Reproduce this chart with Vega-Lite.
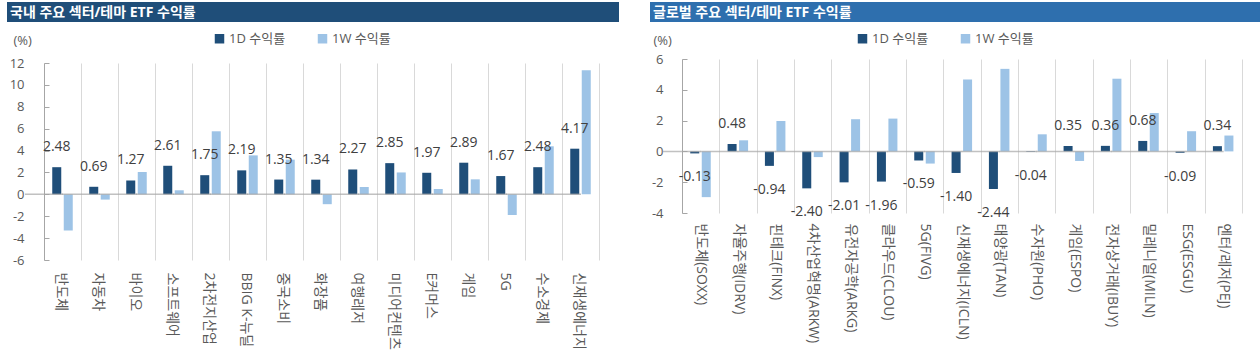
{
  "$schema": "https://vega.github.io/schema/vega-lite/v6.json",
  "padding": {"left": 0, "top": 2, "right": 0, "bottom": 0},
  "background": "white",
  "spacing": 24,
  "resolve": {"scale": {"color": "independent"}, "legend": {"color": "independent"}},
  "datasets": {
    "kr": [
      {"sector": "반도체", "series": "1D 수익률", "value": 2.48},
      {"sector": "반도체", "series": "1W 수익률", "value": -3.3},
      {"sector": "자동차", "series": "1D 수익률", "value": 0.69},
      {"sector": "자동차", "series": "1W 수익률", "value": -0.48},
      {"sector": "바이오", "series": "1D 수익률", "value": 1.27},
      {"sector": "바이오", "series": "1W 수익률", "value": 2.04},
      {"sector": "소프트웨어", "series": "1D 수익률", "value": 2.61},
      {"sector": "소프트웨어", "series": "1W 수익률", "value": 0.37},
      {"sector": "2차전지산업", "series": "1D 수익률", "value": 1.75},
      {"sector": "2차전지산업", "series": "1W 수익률", "value": 5.76},
      {"sector": "BBIG K-뉴딜", "series": "1D 수익률", "value": 2.19},
      {"sector": "BBIG K-뉴딜", "series": "1W 수익률", "value": 3.56},
      {"sector": "중국소비", "series": "1D 수익률", "value": 1.35},
      {"sector": "중국소비", "series": "1W 수익률", "value": 3.17},
      {"sector": "화장품", "series": "1D 수익률", "value": 1.34},
      {"sector": "화장품", "series": "1W 수익률", "value": -0.9},
      {"sector": "여행레저", "series": "1D 수익률", "value": 2.27},
      {"sector": "여행레저", "series": "1W 수익률", "value": 0.67},
      {"sector": "미디어컨텐츠", "series": "1D 수익률", "value": 2.85},
      {"sector": "미디어컨텐츠", "series": "1W 수익률", "value": 2.0},
      {"sector": "E커머스", "series": "1D 수익률", "value": 1.97},
      {"sector": "E커머스", "series": "1W 수익률", "value": 0.49},
      {"sector": "게임", "series": "1D 수익률", "value": 2.89},
      {"sector": "게임", "series": "1W 수익률", "value": 1.37},
      {"sector": "5G", "series": "1D 수익률", "value": 1.67},
      {"sector": "5G", "series": "1W 수익률", "value": -1.89},
      {"sector": "수소경제", "series": "1D 수익률", "value": 2.48},
      {"sector": "수소경제", "series": "1W 수익률", "value": 4.39},
      {"sector": "신재생에너지", "series": "1D 수익률", "value": 4.17},
      {"sector": "신재생에너지", "series": "1W 수익률", "value": 11.33}
    ],
    "gl": [
      {"sector": "반도체(SOXX)", "series": "1D 수익률", "value": -0.13},
      {"sector": "반도체(SOXX)", "series": "1W 수익률", "value": -2.97},
      {"sector": "자율주행(IDRV)", "series": "1D 수익률", "value": 0.48},
      {"sector": "자율주행(IDRV)", "series": "1W 수익률", "value": 0.72},
      {"sector": "핀테크(FINX)", "series": "1D 수익률", "value": -0.94},
      {"sector": "핀테크(FINX)", "series": "1W 수익률", "value": 1.98},
      {"sector": "4차산업혁명(ARKW)", "series": "1D 수익률", "value": -2.40},
      {"sector": "4차산업혁명(ARKW)", "series": "1W 수익률", "value": -0.37},
      {"sector": "유전자공학(ARKG)", "series": "1D 수익률", "value": -2.01},
      {"sector": "유전자공학(ARKG)", "series": "1W 수익률", "value": 2.09},
      {"sector": "클라우드(CLOU)", "series": "1D 수익률", "value": -1.96},
      {"sector": "클라우드(CLOU)", "series": "1W 수익률", "value": 2.13},
      {"sector": "5G(FIVG)", "series": "1D 수익률", "value": -0.59},
      {"sector": "5G(FIVG)", "series": "1W 수익률", "value": -0.79},
      {"sector": "신재생에너지(ICLN)", "series": "1D 수익률", "value": -1.40},
      {"sector": "신재생에너지(ICLN)", "series": "1W 수익률", "value": 4.67},
      {"sector": "태양광(TAN)", "series": "1D 수익률", "value": -2.44},
      {"sector": "태양광(TAN)", "series": "1W 수익률", "value": 5.36},
      {"sector": "수자원(PHO)", "series": "1D 수익률", "value": -0.04},
      {"sector": "수자원(PHO)", "series": "1W 수익률", "value": 1.11},
      {"sector": "게임(ESPO)", "series": "1D 수익률", "value": 0.35},
      {"sector": "게임(ESPO)", "series": "1W 수익률", "value": -0.62},
      {"sector": "전자상거래(IBUY)", "series": "1D 수익률", "value": 0.36},
      {"sector": "전자상거래(IBUY)", "series": "1W 수익률", "value": 4.72},
      {"sector": "밀레니얼(MILN)", "series": "1D 수익률", "value": 0.68},
      {"sector": "밀레니얼(MILN)", "series": "1W 수익률", "value": 2.49},
      {"sector": "ESG(ESGU)", "series": "1D 수익률", "value": -0.09},
      {"sector": "ESG(ESGU)", "series": "1W 수익률", "value": 1.31},
      {"sector": "엔터/레저(PEJ)", "series": "1D 수익률", "value": 0.34},
      {"sector": "엔터/레저(PEJ)", "series": "1W 수익률", "value": 1.03}
    ]
  },
  "hconcat": [
    {
      "bounds": "flush",
      "spacing": 41,
      "resolve": {"scale": {"color": "independent"}, "legend": {"color": "independent"}},
      "vconcat": [
        {
          "width": 612,
          "height": 20,
          "data": {"values": [{"title": "국내 주요 섹터/테마 ETF 수익률"}]},
          "view": {"fill": "#1f4e79", "stroke": null},
          "mark": {"type": "rect", "color": "#1f4e79"},
          "title": {"text": "국내 주요 섹터/테마 ETF 수익률", "orient": "top", "anchor": "start", "frame": "group", "offset": -29, "baseline": "alphabetic", "dx": 3, "color": "white", "fontSize": 14, "fontWeight": "bold"}
        },
        {
          "width": 612,
          "height": 197,
          "data": {"name": "kr"},
          "encoding": {
            "x": {"field": "sector", "type": "nominal", "sort": null,
              "scale": {"range": [37, 592], "paddingInner": 0, "paddingOuter": 0},
              "axis": {"orient": "bottom", "title": null, "domain": false, "ticks": false, "grid": true, "gridColor": "#d9d9d9", "gridWidth": 1, "tickBand": "extent", "labelAngle": 90, "labelAlign": "left", "labelBaseline": "middle", "labelPadding": 12, "labelFontSize": 14, "labelColor": "#595959", "labelOffset": -2}
            },
            "xOffset": {"field": "series", "type": "nominal", "scale": {"paddingInner": 0.217, "paddingOuter": 0.717}},
            "y": {"field": "value", "type": "quantitative",
              "scale": {"domain": [-6, 12], "nice": false, "zero": false},
              "axis": {"orient": "left", "offset": -37, "values": [-6, -4, -2, 0, 2, 4, 6, 8, 10, 12], "labelOverlap": false, "grid": false, "domainColor": "#a6a6a6", "tickColor": "#a6a6a6", "tickSize": -5, "labelPadding": 25, "labelFontSize": 13, "labelColor": "#595959", "title": "(%)", "titleAngle": 0, "titleX": -31, "titleY": -23, "titleAlign": "left", "titleBaseline": "middle", "titleFontWeight": "normal", "titleFontSize": 13, "titleColor": "#595959"}
            }
          },
          "layer": [
            {
              "mark": {"type": "bar"},
              "encoding": {
                "color": {"field": "series", "type": "nominal", "scale": {"domain": ["1D 수익률", "1W 수익률"], "range": ["#1f4e79", "#9dc3e6"]},
                  "legend": {"orient": "none", "legendX": 206, "legendY": -31, "direction": "horizontal", "title": null}}
              }
            },
            {
              "transform": [{"filter": "datum.series === '1D 수익률'"}],
              "mark": {"type": "tick", "color": "#a6a6a6", "size": 38, "thickness": 1.5},
              "encoding": {"xOffset": {"value": 0}, "y": {"datum": 0, "type": "quantitative"}}
            },
            {
              "transform": [{"filter": "datum.series === '1D 수익률'"}],
              "mark": {"type": "text", "baseline": "middle", "dy": -20, "fontSize": 14, "color": "#404040"},
              "encoding": {
                "text": {"field": "value", "type": "quantitative", "format": ".2f"}
              }
            }
          ]
        }
      ]
    },
    {
      "bounds": "flush",
      "spacing": 37,
      "resolve": {"scale": {"color": "independent"}, "legend": {"color": "independent"}},
      "vconcat": [
        {
          "width": 612,
          "height": 20,
          "data": {"values": [{"title": "글로벌 주요 섹터/테마 ETF 수익률"}]},
          "view": {"fill": "#2e6fae", "stroke": null},
          "mark": {"type": "rect", "color": "#2e6fae"},
          "title": {"text": "글로벌 주요 섹터/테마 ETF 수익률", "orient": "top", "anchor": "start", "frame": "group", "offset": -29, "baseline": "alphabetic", "dx": 3, "color": "white", "fontSize": 14, "fontWeight": "bold"}
        },
        {
          "width": 612,
          "height": 154,
          "data": {"name": "gl"},
          "encoding": {
            "x": {"field": "sector", "type": "nominal", "sort": null,
              "scale": {"range": [32, 592], "paddingInner": 0, "paddingOuter": 0},
              "axis": {"orient": "bottom", "title": null, "domain": false, "ticks": false, "grid": true, "gridColor": "#d9d9d9", "gridWidth": 1, "tickBand": "extent", "labelAngle": 90, "labelAlign": "left", "labelBaseline": "middle", "labelPadding": 10, "labelFontSize": 14, "labelColor": "#595959"}
            },
            "xOffset": {"field": "series", "type": "nominal", "scale": {"paddingInner": 0.217, "paddingOuter": 0.717}},
            "y": {"field": "value", "type": "quantitative",
              "scale": {"domain": [-4, 6], "nice": false, "zero": false},
              "axis": {"orient": "left", "offset": -32, "values": [-4, -2, 0, 2, 4, 6], "labelOverlap": false, "grid": false, "domainColor": "#a6a6a6", "tickColor": "#a6a6a6", "tickSize": -5, "labelPadding": 24, "labelFontSize": 13, "labelColor": "#595959", "title": "(%)", "titleAngle": 0, "titleX": -29, "titleY": -19, "titleAlign": "left", "titleBaseline": "middle", "titleFontWeight": "normal", "titleFontSize": 13, "titleColor": "#595959"}
            }
          },
          "layer": [
            {
              "mark": {"type": "bar"},
              "encoding": {
                "color": {"field": "series", "type": "nominal", "scale": {"domain": ["1D 수익률", "1W 수익률"], "range": ["#1f4e79", "#9dc3e6"]},
                  "legend": {"orient": "none", "legendX": 206, "legendY": -27, "direction": "horizontal", "title": null}}
              }
            },
            {
              "transform": [{"filter": "datum.series === '1D 수익률'"}],
              "mark": {"type": "tick", "color": "#a6a6a6", "size": 38, "thickness": 1.5},
              "encoding": {"xOffset": {"value": 0}, "y": {"datum": 0, "type": "quantitative"}}
            },
            {
              "transform": [{"filter": "datum.series === '1D 수익률' && datum.value >= 0"}],
              "mark": {"type": "text", "baseline": "middle", "dy": -20, "fontSize": 14, "color": "#404040"},
              "encoding": {
                "text": {"field": "value", "type": "quantitative", "format": ".2f"}
              }
            },
            {
              "transform": [{"filter": "datum.series === '1D 수익률' && datum.value < 0"}],
              "mark": {"type": "text", "baseline": "middle", "dy": 24, "fontSize": 14, "color": "#404040"},
              "encoding": {
                "text": {"field": "value", "type": "quantitative", "format": ".2f"}
              }
            }
          ]
        }
      ]
    }
  ],
  "config": {
    "font": "Open Sans, Noto Sans CJK KR",
    "view": {"stroke": null},
    "axisY": {"labelOverlap": false},
    "locale": {"number": {"decimal": ".", "thousands": ",", "grouping": [3], "currency": ["", ""], "minus": "-"}},
    "legend": {"symbolType": "square", "symbolSize": 90, "symbolStrokeWidth": 0, "labelFontSize": 13, "labelColor": "#595959", "columnPadding": 30, "labelOffset": 3}
  }
}
